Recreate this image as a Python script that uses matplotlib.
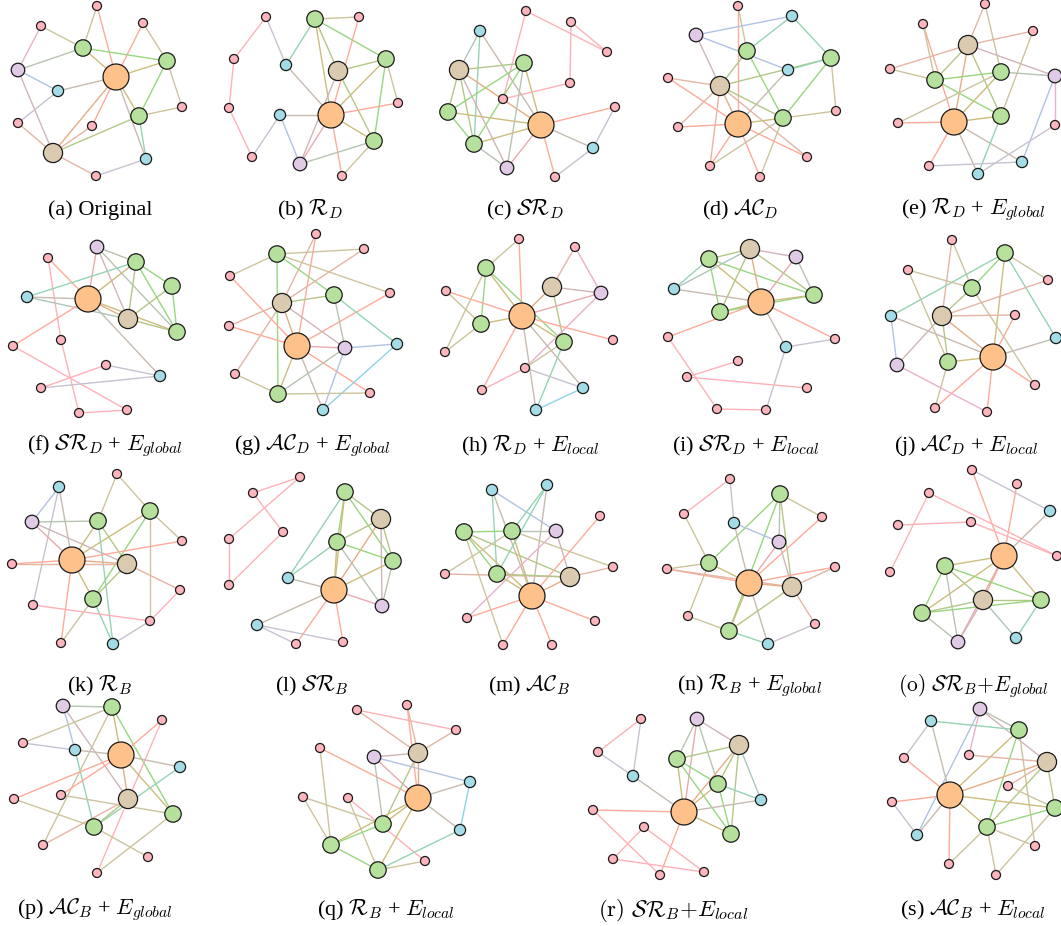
import numpy as np
import matplotlib.pyplot as plt
from matplotlib.collections import LineCollection
from matplotlib.colors import to_rgb

plt.rcParams['font.family'] = ['Liberation Serif', 'DejaVu Serif']
plt.rcParams['mathtext.fontset'] = 'cm'

# node kinds: O=orange hub, T=tan, G=green, P=purple, B=blue, K=pink leaf
fill = {'O': '#fec18a', 'T': '#dacab0', 'G': '#b6e19c', 'P': '#e1cae6', 'B': '#a3dce6', 'K': '#ffb5bd'}
size = {'O': 350, 'T': 190, 'G': 140, 'P': 95, 'B': 65, 'K': 42}
ecol = {'O': '#ff8c59', 'T': '#bfa673', 'G': '#80cc60', 'P': '#c79ed9', 'B': '#73c7e0', 'K': '#ff9ea8'}

#---------------- panel data (pixel layout of each small graph) ----------------
a_kind = "KKKGGPOBKKGKTBK"
a_x = [97, 41, 143, 83, 167, 18, 116, 58, 182, 18, 139, 92, 53, 146, 96]
a_y = [6, 26, 23, 48, 61, 70, 77, 91, 107, 123, 116, 126, 153, 159, 176]
a_edges = [(0,3),(0,6),(1,3),(1,5),(2,6),(2,4),(3,4),(3,6),(3,5),(4,6),(4,10),(4,8),(5,7),(5,12),
           (6,7),(6,10),(6,13),(6,11),(6,12),(7,9),(9,12),(10,8),(10,13),(10,12),(11,12),(12,14),(13,14)]

b_kind = "KGKKBTGKKBOGKPK"
b_x = [266, 315, 359, 234, 286, 338, 386, 398, 229, 280, 331, 374, 252, 300, 342]
b_y = [17, 19, 17, 59, 65, 71, 59, 103, 108, 115, 115, 141, 157, 164, 176]
b_edges = [(0,3),(0,4),(1,2),(1,4),(1,6),(1,5),(1,10),(5,11),(2,10),(3,8),(8,12),(12,9),(9,10),(9,13),
           (4,10),(5,6),(5,13),(6,10),(6,11),(6,7),(10,7),(10,11),(10,13),(10,14),(11,13),(11,14)]

c_kind = "KKBKTGKKKGOGBPK"
c_x = [526, 571, 480, 607, 459, 524, 570, 503, 615, 448, 541, 474, 593, 507, 555]
c_y = [11, 22, 31, 52, 70, 63, 83, 99, 107, 112, 125, 144, 148, 168, 177]
c_edges = [(0,3),(0,7),(1,3),(1,6),(6,7),(2,4),(2,11),(2,10),(4,5),(4,9),(4,11),(4,10),(4,13),(5,9),
           (5,11),(5,10),(5,13),(9,10),(9,11),(11,10),(11,13),(10,8),(10,12),(10,13),(10,14),(12,8),(12,14)]

d_kind = "KBPGGBKTKGOKKKK"
d_x = [738, 792, 696, 747, 831, 788, 668, 720, 836, 783, 738, 678, 807, 710, 760]
d_y = [6, 16, 35, 51, 58, 70, 78, 86, 111, 118, 124, 127, 157, 166, 177]
d_edges = [(0,10),(0,3),(2,1),(2,5),(2,7),(1,3),(1,4),(3,7),(3,9),(6,10),(6,7),(11,10),(11,7),(4,7),
           (4,5),(4,9),(4,8),(5,10),(7,9),(7,12),(7,10),(9,10),(9,8),(9,14),(10,12),(10,13),(10,14),(13,9),(13,7)]

e_kind = "KKKTKGGPKOGKKBB"
e_x = [985, 923, 1033, 968, 890, 935, 1001, 1055, 898, 954, 1001, 1055, 929, 1022, 978]
e_y = [4, 24, 31, 45, 69, 80, 72, 76, 123, 122, 116, 125, 166, 162, 174]
e_edges = [(0,3),(0,6),(1,9),(1,5),(2,3),(2,10),(3,4),(3,5),(3,9),(3,10),(3,7),(4,5),(5,6),(5,10),
           (6,7),(6,9),(6,8),(8,9),(9,10),(9,12),(9,14),(9,13),(10,14),(7,13),(7,11),(11,14),(12,13)]

f_kind = "PKGGBOTGKKKBKKK"
f_x = [97, 48, 136, 172, 27, 88, 128, 177, 13, 61, 106, 160, 41, 79, 127]
f_y = [247, 258, 262, 286, 297, 299, 319, 332, 346, 340, 365, 376, 388, 413, 410]
f_edges = [(0,5),(0,6),(0,2),(0,7),(1,5),(1,9),(9,13),(4,2),(4,5),(4,6),(2,5),(2,3),(2,6),(2,7),
           (3,6),(3,7),(5,6),(5,7),(5,8),(5,11),(6,7),(8,14),(10,12),(10,11),(12,11),(13,14)]

g_kind = "KGKKKTGKOPBKGKB"
g_x = [316, 277, 364, 230, 390, 282, 334, 229, 297, 345, 397, 235, 278, 370, 323]
g_y = [234, 254, 249, 276, 293, 303, 295, 326, 346, 348, 344, 374, 394, 393, 410]
g_edges = [(0,5),(0,8),(1,2),(1,4),(1,3),(1,6),(1,12),(2,5),(3,8),(4,8),(5,6),(5,7),(5,8),(5,9),
           (5,11),(6,10),(6,9),(7,8),(8,9),(8,12),(8,13),(8,14),(9,10),(9,12),(9,14),(10,14),(11,12),(12,13)]

h_kind = "KKGKTPOGGKKKKBB"
h_x = [519, 575, 486, 446, 552, 601, 522, 481, 564, 613, 445, 525, 482, 583, 536]
h_y = [239, 247, 268, 291, 287, 293, 316, 324, 342, 340, 352, 368, 390, 388, 410]
h_edges = [(0,2),(0,6),(1,4),(1,5),(2,7),(2,6),(2,8),(2,10),(3,6),(3,7),(4,5),(4,6),(4,8),(5,11),
           (5,6),(6,7),(6,8),(6,9),(6,12),(6,13),(6,14),(7,10),(8,11),(8,14),(11,12),(11,13),(13,14)]

i_kind = "GTPBGGOKBKKKKKK"
i_x = [709, 750, 796, 674, 814, 720, 761, 668, 786, 835, 738, 687, 807, 717, 766]
i_y = [259, 249, 257, 289, 295, 312, 302, 337, 347, 339, 361, 377, 388, 409, 410]
i_edges = [(0,1),(0,3),(0,5),(0,6),(0,4),(1,2),(1,5),(1,6),(1,4),(1,3),(2,6),(2,4),(3,6),(5,6),
           (5,4),(6,4),(6,9),(6,7),(6,8),(7,13),(13,14),(14,8),(8,9),(11,10),(11,12)]

j_kind = "KGKKGBTKBOGPKKK"
j_x = [952, 1005, 908, 1048, 972, 891, 942, 1015, 1056, 993, 948, 897, 1035, 935, 987]
j_y = [240, 253, 270, 280, 288, 316, 316, 315, 338, 357, 362, 365, 385, 408, 412]
j_edges = [(0,6),(0,4),(1,4),(1,5),(1,9),(1,8),(1,3),(2,4),(2,10),(3,6),(4,6),(4,12),(5,11),(5,9),
           (6,7),(6,9),(6,10),(6,11),(7,9),(8,9),(9,10),(9,12),(9,13),(9,14),(10,13),(11,14)]

k_kind = "KBGPGKKOTKGKKKB"
k_x = [117, 59, 150, 32, 98, 182, 12, 72, 127, 180, 93, 33, 150, 61, 113]
k_y = [474, 487, 511, 522, 521, 541, 564, 560, 564, 590, 599, 605, 621, 643, 644]
k_edges = [(0,4),(0,2),(1,3),(1,7),(1,11),(2,7),(2,10),(2,5),(2,12),(3,4),(3,8),(3,7),(4,7),(4,8),
           (4,14),(6,7),(6,8),(7,5),(7,8),(7,10),(7,13),(8,9),(8,10),(10,14),(10,13),(11,12),(12,9),(14,12)]

l_kind = "KKGTKKGGBOKPBKK"
l_x = [300, 253, 345, 381, 283, 229, 337, 393, 288, 334, 229, 382, 257, 296, 343]
l_y = [477, 493, 492, 519, 532, 539, 542, 561, 578, 590, 585, 606, 625, 644, 642]
l_edges = [(0,1),(0,5),(1,4),(4,10),(5,10),(2,3),(2,6),(2,7),(2,8),(2,9),(3,6),(3,7),(3,11),(3,9),
           (6,7),(6,8),(6,9),(6,11),(7,9),(7,11),(8,9),(9,11),(9,12),(9,13),(9,14),(12,13),(12,14)]

m_kind = "BBGGPKKKGTOKKKK"
m_x = [492, 547, 464, 512, 556, 600, 613, 445, 497, 570, 532, 467, 595, 503, 552]
m_y = [490, 485, 532, 531, 531, 516, 567, 574, 574, 577, 596, 618, 621, 645, 645]
m_edges = [(0,4),(0,8),(0,10),(1,3),(1,8),(1,10),(2,3),(2,8),(2,9),(2,13),(2,10),(3,4),(3,6),(3,7),
           (3,10),(4,9),(4,11),(5,10),(7,9),(8,9),(8,10),(9,10),(9,6),(10,11),(10,12),(10,13),(10,14)]

n_kind = "KGKKBPGKKOTKKGB"
n_x = [730, 780, 684, 822, 734, 779, 709, 667, 835, 749, 792, 688, 815, 729, 768]
n_y = [479, 494, 514, 517, 523, 542, 563, 569, 567, 583, 587, 616, 624, 631, 644]
n_edges = [(0,2),(0,4),(1,3),(1,6),(1,5),(1,10),(1,13),(2,6),(3,9),(4,5),(4,9),(5,9),(5,10),(6,7),
           (6,9),(6,11),(7,9),(7,10),(8,9),(8,10),(9,10),(9,13),(9,14),(10,12),(10,13),(11,13),(13,14),(12,14)]

o_kind = "KKKBKKOKKGTGGBP"
o_x = [972, 1017, 929, 1050, 898, 971, 1004, 1057, 890, 945, 983, 1041, 922, 1016, 958]
o_y = [470, 484, 493, 511, 525, 522, 556, 556, 572, 566, 600, 600, 613, 638, 642]
o_edges = [(0,3),(0,6),(1,6),(2,7),(2,8),(4,5),(5,7),(3,6),(6,9),(6,12),(6,10),(6,11),(6,14),(9,10),
           (9,11),(9,12),(9,14),(10,11),(10,12),(10,14),(10,13),(11,12),(11,13),(12,14)]

p_kind = "PGKKBOBKKTGGKKK"
p_x = [63, 112, 162, 23, 75, 121, 180, 14, 61, 128, 173, 94, 43, 148, 97]
p_y = [706, 707, 720, 743, 750, 755, 767, 799, 795, 799, 814, 827, 845, 857, 873]
p_edges = [(0,1),(0,4),(0,9),(1,3),(1,5),(1,10),(1,12),(2,5),(2,14),(3,4),(4,5),(4,11),(5,6),(5,7),
           (5,8),(5,9),(5,10),(6,11),(7,11),(8,10),(9,11),(9,12),(10,14),(11,13)]

q_kind = "KKKKPTBKKOGBGKG"
q_x = [407, 357, 456, 320, 374, 418, 470, 303, 348, 418, 383, 460, 331, 425, 378]
q_y = [705, 710, 730, 748, 757, 753, 782, 797, 798, 798, 824, 830, 845, 861, 870]
q_edges = [(1,2),(1,5),(0,5),(0,9),(2,5),(3,9),(3,12),(4,5),(4,6),(4,9),(4,10),(5,9),(5,10),(6,9),
           (6,11),(7,10),(7,12),(8,13),(8,14),(9,10),(9,12),(9,11),(9,14),(10,12),(12,14),(14,11),(14,13)]

r_kind = "KPKTGBGBKOKGKKK"
r_x = [641, 697, 598, 739, 677, 633, 718, 761, 593, 684, 644, 731, 613, 660, 704]
r_y = [719, 719, 752, 745, 759, 776, 784, 800, 810, 812, 827, 834, 859, 875, 872]
r_edges = [(0,2),(0,5),(2,5),(1,3),(1,4),(1,6),(1,9),(3,4),(3,6),(3,7),(3,9),(3,11),(4,6),(4,9),
           (4,11),(5,9),(6,7),(6,9),(6,11),(8,9),(8,13),(9,7),(9,11),(9,13),(10,12),(10,14),(12,14)]

s_kind = "PBGKKTKOKGGBKKK"
s_x = [980, 931, 1019, 904, 969, 1047, 1008, 950, 892, 1055, 987, 917, 1035, 949, 996]
s_y = [709, 721, 730, 758, 755, 762, 786, 795, 802, 808, 827, 835, 846, 864, 875]
s_edges = [(0,2),(0,4),(0,11),(0,5),(1,2),(1,3),(1,7),(2,7),(2,10),(2,12),(3,7),(4,5),(5,7),(5,9),
           (5,10),(5,6),(10,13),(6,9),(7,8),(7,9),(7,10),(7,11),(7,13),(8,11),(9,10),(9,14),(10,12),(10,14)]

captions = [r"(a) Original", r"(b) $\mathcal{R}_D$", r"(c) $\mathcal{SR}_D$", r"(d) $\mathcal{AC}_D$",
            r"(e) $\mathcal{R}_D$ + $E_{global}$",
            r"(f) $\mathcal{SR}_D$ + $E_{global}$", r"(g) $\mathcal{AC}_D$ + $E_{global}$",
            r"(h) $\mathcal{R}_D$ + $E_{local}$", r"(i) $\mathcal{SR}_D$ + $E_{local}$",
            r"(j) $\mathcal{AC}_D$ + $E_{local}$",
            r"(k) $\mathcal{R}_B$", r"(l) $\mathcal{SR}_B$", r"(m) $\mathcal{AC}_B$",
            r"(n) $\mathcal{R}_B$ + $E_{global}$", r"$\mathrm{(o)}\ \mathcal{SR}_B{+}E_{global}$",
            r"(p) $\mathcal{AC}_B$ + $E_{global}$", r"(q) $\mathcal{R}_B$ + $E_{local}$",
            r"$\mathrm{(r)}\ \mathcal{SR}_B{+}E_{local}$", r"(s) $\mathcal{AC}_B$ + $E_{local}$"]
cap_x = [100, 310, 525, 740, 973, 105, 312, 530, 746, 966, 100, 312, 529, 750, 973, 95, 386, 673, 973]
cap_y = [210] * 5 + [446] * 5 + [686] * 5 + [910] * 4
cap_size = [16] * 14 + [15.5] + [16] * 2 + [16.5] + [16]

panels = [(a_kind, a_x, a_y, a_edges), (b_kind, b_x, b_y, b_edges), (c_kind, c_x, c_y, c_edges),
          (d_kind, d_x, d_y, d_edges), (e_kind, e_x, e_y, e_edges), (f_kind, f_x, f_y, f_edges),
          (g_kind, g_x, g_y, g_edges), (h_kind, h_x, h_y, h_edges), (i_kind, i_x, i_y, i_edges),
          (j_kind, j_x, j_y, j_edges), (k_kind, k_x, k_y, k_edges), (l_kind, l_x, l_y, l_edges),
          (m_kind, m_x, m_y, m_edges), (n_kind, n_x, n_y, n_edges), (o_kind, o_x, o_y, o_edges),
          (p_kind, p_x, p_y, p_edges), (q_kind, q_x, q_y, q_edges), (r_kind, r_x, r_y, r_edges),
          (s_kind, s_x, s_y, s_edges)]


def blend(k1, k2):
    c = (np.array(to_rgb(ecol[k1])) + np.array(to_rgb(ecol[k2]))) / 2
    return tuple(c * 0.8 + 0.2)


fig = plt.figure(figsize=(10.61, 9.26), dpi=100)
ax = fig.add_axes([0, 0, 1, 1])
ax.set_xlim(0, 1061)
ax.set_ylim(926, 0)
ax.axis('off')

for kinds, xs, ys, edges in panels:
    segs = [[(xs[i], ys[i]), (xs[j], ys[j])] for i, j in edges]
    cols = [blend(kinds[i], kinds[j]) for i, j in edges]
    ax.add_collection(LineCollection(segs, colors=cols, linewidths=1.0, zorder=1))
    ax.scatter(xs, ys, s=[size[k] for k in kinds], c=[fill[k] for k in kinds],
               edgecolors='#1a1a1a', linewidths=0.9, zorder=2)

for txt, x, y, fs in zip(captions, cap_x, cap_y, cap_size):
    ax.text(x, y, txt, ha='center', va='center', fontsize=fs)

fig.savefig('out.png', dpi=100)
